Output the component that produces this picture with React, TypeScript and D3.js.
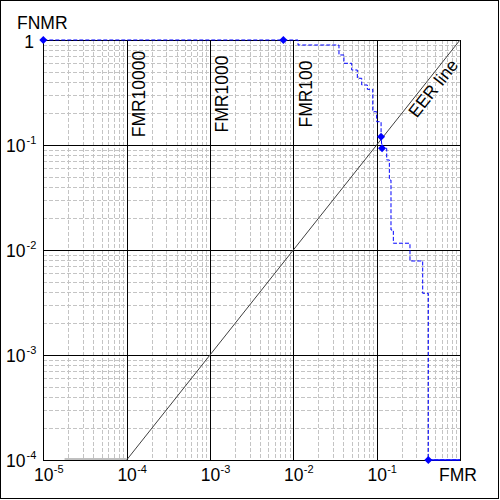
import React from "react";
import * as d3 from "d3";

const curveFMR = [1e-5, 0.0114, 0.0114, 0.0353, 0.0353, 0.0405, 0.0405, 0.0502, 0.0502, 0.0586, 0.0586, 0.0662, 0.0662, 0.0773, 0.0773, 0.0898, 0.0898, 0.1, 0.1, 0.113, 0.113, 0.116, 0.132, 0.132, 0.142, 0.142, 0.1486, 0.1486, 0.1585, 0.1585, 0.251, 0.251, 0.3567, 0.3567, 0.417, 0.417, 1];
const curveFNMR = [1, 1, 0.896, 0.896, 0.72, 0.72, 0.6, 0.6, 0.518, 0.518, 0.432, 0.432, 0.373, 0.373, 0.339, 0.339, 0.2075, 0.2075, 0.1667, 0.1667, 0.12, 0.093, 0.093, 0.072, 0.072, 0.0464, 0.0464, 0.0155, 0.0155, 0.0116, 0.0116, 0.00786, 0.00786, 0.00387, 0.00387, 1e-4, 1e-4];

const markerFMR = [1e-5, 0.0076, 0.113, 0.116, 0.417];
const markerFNMR = [1, 1, 0.12, 0.093, 1e-4];

const xTickExps = [-5, -4, -3, -2, -1];
const yTickExps = [-1, -2, -3, -4];

const fmrLineValues = [1e-4, 1e-3, 1e-2];
const fmrLineLabels = ["FMR10000", "FMR1000", "FMR100"];

const FONT = "'Liberation Sans', Arial, sans-serif";

export default function App() {
  const x = d3.scaleLog().domain([1e-5, 1]).range([43.3, 460]);
  const y = d3.scaleLog().domain([1e-4, 1]).range([460, 40]);

  const minorX: number[] = [];
  for (let e = -5; e < 0; e++) for (let m = 2; m <= 9; m++) minorX.push(m * Math.pow(10, e));
  const minorY: number[] = [];
  for (let e = -4; e < 0; e++) for (let m = 2; m <= 9; m++) minorY.push(m * Math.pow(10, e));
  const majorX = [1e-5, 1e-4, 1e-3, 1e-2, 1e-1, 1];
  const majorY = [1e-4, 1e-3, 1e-2, 1e-1, 1];

  const pts = curveFMR.map((f, i) => [x(f), y(curveFNMR[i])] as [number, number]);
  const linePath = d3.line()(pts) || "";

  const diamond = d3.symbol(d3.symbolSquare, 32)() || "";

  const eerAngle = (Math.atan2(y(1) - y(1e-4), x(1) - x(1e-4)) * 180) / Math.PI;

  return (
    <svg
      width={500}
      height={500}
      style={{ position: "absolute", left: 0, top: 0, background: "#fff" }}
      fontFamily={FONT}
    >
      <rect x={0} y={0} width={500} height={500} fill="#fff" />
      <rect x={0.5} y={0.5} width={498} height={498} fill="none" stroke="#000" />
      {/* minor grid */}
      <g stroke="#c4c4c4" strokeDasharray="4,2" shapeRendering="crispEdges">
        {minorX.map((v, i) => (
          <line key={"mx" + i} x1={Math.round(x(v)) + 0.5} x2={Math.round(x(v)) + 0.5} y1={40} y2={460} />
        ))}
        {minorY.map((v, i) => (
          <line key={"my" + i} x1={43} x2={460} y1={Math.round(y(v)) + 0.5} y2={Math.round(y(v)) + 0.5} />
        ))}
      </g>
      {/* major grid */}
      <g stroke="#000" shapeRendering="crispEdges">
        {majorX.map((v, i) => (
          <line key={"MX" + i} x1={Math.round(x(v)) + 0.5} x2={Math.round(x(v)) + 0.5} y1={40} y2={460} />
        ))}
        {majorY.map((v, i) => (
          <line key={"MY" + i} x1={43} x2={460.5} y1={Math.round(y(v)) + 0.5} y2={Math.round(y(v)) + 0.5} />
        ))}
      </g>
      {/* EER line */}
      <line x1={x(1e-4)} y1={y(1e-4)} x2={x(1)} y2={y(1)} stroke="#404040" strokeWidth={1} />
      <line x1={x(1.8e-5)} y1={y(1e-4) - 1} x2={x(1e-4)} y2={y(1e-4) - 1} stroke="#808080" strokeWidth={1} />
      <text
        transform={`translate(438,92) rotate(${eerAngle})`}
        textAnchor="middle"
        fontSize={17.5}
        fill="#000"
      >
        EER line
      </text>
      {/* FMR lines labels */}
      {fmrLineValues.map((v, i) => (
        <text
          key={"fl" + i}
          transform={`translate(${x(v) + 18.5},94) rotate(-90)`}
          textAnchor="middle"
          fontSize={17.5}
          fill="#000"
        >
          {fmrLineLabels[i]}
        </text>
      ))}
      {/* curve */}
      <path d={linePath} fill="none" stroke="#0000ff" strokeWidth={1} strokeDasharray="4,2" />
      <line x1={x(0.417)} x2={x(1)} y1={y(1e-4)} y2={y(1e-4)} stroke="#0000ff" strokeWidth={1.5} />
      {markerFMR.map((f, i) => (
        <path
          key={"m" + i}
          d={diamond}
          transform={`translate(${x(f)},${y(markerFNMR[i])}) rotate(45)`}
          fill="#0000ff"
        />
      ))}
      {/* x tick labels */}
      {xTickExps.map((e, i) => (
        <g key={"xt" + i}>
          <text x={x(Math.pow(10, e)) + 0.5} y={481} textAnchor="middle" fontSize={17.5}>
            10
          </text>
          <text x={x(Math.pow(10, e)) + 10.5} y={473} fontSize={11}>
            {String(e)}
          </text>
        </g>
      ))}
      {/* y tick labels */}
      <text x={34} y={47.5} textAnchor="end" fontSize={17.5}>
        1
      </text>
      {yTickExps.map((e, i) => (
        <g key={"yt" + i}>
          <text x={25.5} y={y(Math.pow(10, e)) + 7} textAnchor="end" fontSize={17.5}>
            10
          </text>
          <text x={26.5} y={y(Math.pow(10, e)) - 1} fontSize={11}>
            {String(e)}
          </text>
        </g>
      ))}
      <text x={17} y={29} fontSize={17.5}>
        FNMR
      </text>
      <text x={439} y={481} fontSize={17.5}>
        FMR
      </text>
    </svg>
  );
}
